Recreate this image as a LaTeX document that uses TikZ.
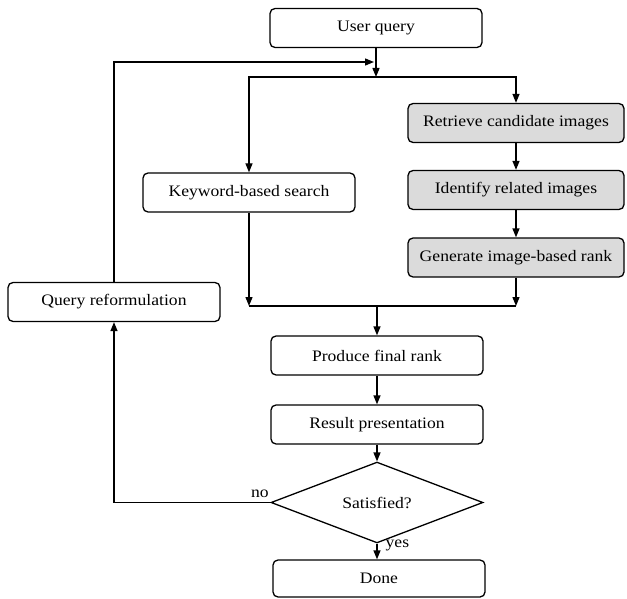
\documentclass[tikz,border=0pt]{standalone}
\usepackage{fontspec}
\setmainfont{Liberation Serif}[FakeStretch=1.1]
\usetikzlibrary{shapes.geometric,arrows.meta}

\begin{document}
\begin{tikzpicture}[x=1pt,y=-1pt,line width=1.3pt,>={Triangle[length=9pt,width=7pt]},
	box/.style={draw,rounded corners=5pt,minimum width=212pt,minimum height=39pt,inner sep=0pt,font=\fontsize{16}{18}\selectfont},
	greybox/.style={box,fill=gray!28,minimum width=216pt},
	decide/.style={draw,diamond,inner sep=0pt,minimum width=212pt,minimum height=57pt,font=\fontsize{16}{18}\selectfont},
	lbl/.style={font=\fontsize{16}{18}\selectfont,inner sep=1pt}]
	\useasboundingbox (0,0) rectangle (627,599);
	\node[box] (user) at (376,28) {User query};
	\node[greybox] (retr) at (516,123) {Retrieve candidate images};
	\node[greybox] (ident) at (516,190) {Identify related images};
	\node[greybox] (gen) at (516,257.5) {Generate image-based rank};
	\node[box] (key) at (249,192.5) {Keyword-based search};
	\node[box] (qref) at (114,302) {Query reformulation};
	\node[box] (prod) at (377,355.5) {Produce final rank};
	\node[box] (res) at (377,424.5) {Result presentation};
	\node[decide] (sat) at (377,502.5) {Satisfied?};
	\node[box,minimum height=37pt] (done) at (379,578.5) {Done};
	\coordinate (split) at (376,77);
	\coordinate (merge) at (374,62);
	\coordinate (join) at (377,306);
	\draw[->] (user) -- (split);
	\draw[->] (split) -| (key);
	\draw[->] (split) -| (retr);
	\draw[->] (retr) -- (ident);
	\draw[->] (ident) -- (gen);
	\draw[->] (key) -- (key |- join);
	\draw[->] (gen) -- (gen |- join);
	\draw (key |- join) -- (gen |- join);
	\draw[->] (join) -- (prod);
	\draw[->] (prod) -- (res);
	\draw[->] (res) -- (sat);
	\draw[->] (sat.west) -| (qref.south);
	\node[lbl,above left,yshift=3pt] at (sat.west) {no};
	\draw[->] (qref.north) |- (merge);
	\draw[->] (sat.south) -- (sat.south |- done.north);
	\node[lbl,anchor=west] at (384,545) {yes};
\end{tikzpicture}
\end{document}
